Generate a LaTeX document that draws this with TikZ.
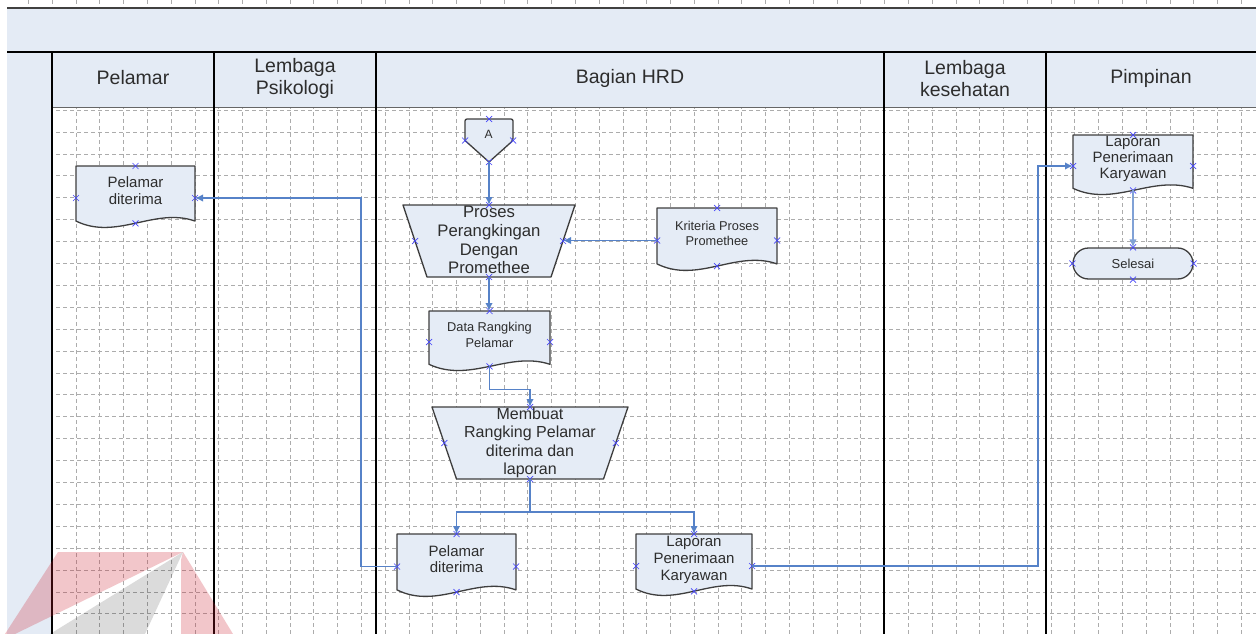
\documentclass[tikz,border=0pt]{standalone}
\usepackage{fontspec}
\setmainfont{Liberation Sans}
\usetikzlibrary{calc,arrows.meta}

\pgfdeclarelayer{grid}
\pgfdeclarelayer{shapes}
\pgfdeclarelayer{marks}
\pgfsetlayers{grid,shapes,main,marks}

\definecolor{lanefill}{RGB}{228,235,245}
\definecolor{boxfill}{RGB}{229,236,246}
\definecolor{boxline}{RGB}{62,62,62}
\definecolor{flow}{RGB}{86,130,200}
\definecolor{pincol}{RGB}{70,70,250}
\definecolor{gridc}{RGB}{172,172,172}
\definecolor{ink}{RGB}{45,45,45}
\definecolor{wmred}{RGB}{205,30,45}

\newcommand\setfs[2]{\fontsize{#1}{#2}\selectfont}

\tikzset{
  x=1pt, y=-1pt,
  outline/.style={fill=boxfill, draw=boxline, line width=1.3pt, line join=round},
  area/.style={rectangle, inner sep=0pt, outer sep=0pt, draw=none},
  txt/.style={align=center, text=ink, inner sep=0pt},
  head/.style={txt, font=\setfs{19.5}{21.5}},
  gridline/.style={draw=gridc, line width=0.7pt, dash pattern=on 4pt off 3pt},
  laneline/.style={draw=black, line width=1.5pt},
  flowline/.style={draw=flow, line width=1.7pt, -{Latex[length=8pt,width=7.5pt]}},
  xmark/.pic={\draw[pincol, line width=0.7pt] (-3,-3) -- (3,3) (-3,3) -- (3,-3);},
}

% document symbol: name, left, top, right, bottom (lowest point of the wave)
\newcommand\docnode[5]{%
  \node[area, minimum width={#4-#2}, minimum height={#5-#3}] (#1)
    at ({(#2+#4)/2},{(#3+#5)/2}) {};
  \begin{pgfonlayer}{shapes}
    \path[outline] (#2,#3) -- (#4,#3) -- (#4,{#3+0.86*(#5-#3)})
      .. controls ({#4-0.34*(#4-#2)},{#3+0.64*(#5-#3)})
              and ({#2+0.34*(#4-#2)},{#3+1.17*(#5-#3)})
      .. (#2,{#3+0.86*(#5-#3)}) -- cycle;
  \end{pgfonlayer}
  \coordinate (#1-s) at ({(#2+#4)/2},{#3+0.895*(#5-#3)});
  \path (#1.north) pic{xmark} (#1.west) pic{xmark} (#1.east) pic{xmark} (#1-s) pic{xmark};
}

% manual operation: name, left, top, right, bottom (top edge), inset of the bottom edge
\newcommand\trapnode[6]{%
  \node[area, minimum width={#4-#2-#6}, minimum height={#5-#3}] (#1)
    at ({(#2+#4)/2},{(#3+#5)/2}) {};
  \begin{pgfonlayer}{shapes}
    \path[outline] (#2,#3) -- (#4,#3) -- ({#4-#6},#5) -- ({#2+#6},#5) -- cycle;
  \end{pgfonlayer}
  \path (#1.north) pic{xmark} (#1.west) pic{xmark} (#1.east) pic{xmark} (#1.south) pic{xmark};
}

\begin{document}
\begin{tikzpicture}
\useasboundingbox (0,0) rectangle (1256,634);

% ---------- background grid and swimlanes ----------
\begin{pgfonlayer}{grid}
  \fill[white] (0,0) rectangle (1256,634);
  \foreach \i in {-2,...,49}
    \draw[gridline] ({76+23.78*\i},0) -- ({76+23.78*\i},634);
  \foreach \j in {-1,...,23}
    \draw[gridline] (7,{132+21.9*\j}) -- (1256,{132+21.9*\j});
  \fill[lanefill] (7,8) rectangle (1256,52);
  \fill[lanefill] (52,52) rectangle (1256,107);
  \fill[lanefill] (7,52) rectangle (52,634);
  \draw[draw=black!75, line width=1.5pt] (7,8) -- (1256,8);
  \draw[draw=black!60, line width=0.9pt] (52,107) -- (1256,107);
  \draw[draw=black, line width=2.2pt] (7,52) -- (1256,52);
  \foreach \lx in {52,214,376,884,1046}
    \draw[laneline] (\lx,52) -- (\lx,634);
\end{pgfonlayer}

% lane headings
\node[head] (hPel) at (133,78) {Pelamar};
\node[head] (hPsi) at (295,78.5) {Lembaga\\Psikologi};
\node[head] (hHrd) at (630,78) {Bagian HRD};
\node[head] (hKes) at (965,78.5) {Lembaga\\kesehatan};
\node[head] (hPim) at (1151,78) {Pimpinan};

% ---------- symbols ----------
% off-page reference A
\node[area, minimum width=48, minimum height=43] (offA) at (489,140.5) {};
\begin{pgfonlayer}{shapes}
  \path[outline, rounded corners=2pt] (465,140.5) -- (465,119) -- (513,119)
    -- (513,140.5) [sharp corners] -- (489,162) -- cycle;
\end{pgfonlayer}
\path (offA.north) pic{xmark} (offA.west) pic{xmark} (offA.east) pic{xmark} (offA.south) pic{xmark};
\node[txt, font=\setfs{12}{14}] (offAt) at (488.5,134) {A};

\trapnode{proses}{403}{205}{575}{277}{24}
\node[txt, font=\setfs{16.7}{18.7}] (prosesT) at (489,240) {Proses\\Perangkingan\\Dengan\\Promethee};

\docnode{krit}{657}{208}{777}{273}
\node[txt, font=\setfs{12.8}{15}] (kritT) at (717,233) {Kriteria Proses\\Promethee};

\docnode{drank}{429}{311}{550}{373}
\node[txt, font=\setfs{12.8}{16}] (drankT) at (489.5,334.5) {Data Rangking\\Pelamar};

\trapnode{mbuat}{432}{407}{628}{479}{24.5}
\node[txt, font=\setfs{16}{18.5}] (mbuatT) at (530,443) {Membuat\\Rangking Pelamar\\diterima dan\\laporan};

\docnode{pd2}{397}{534}{516}{599}
\node[txt, font=\setfs{15}{16.5}] (pd2T) at (456.5,559) {Pelamar\\diterima};

\docnode{lp2}{636}{534}{752}{598}
\node[txt, font=\setfs{15}{17}] (lp2T) at (694,559.5) {Laporan\\Penerimaan\\Karyawan};

\docnode{pd1}{76}{166}{195}{230}
\node[txt, font=\setfs{15}{16.5}] (pd1T) at (135.5,190.5) {Pelamar\\diterima};

\docnode{lp3}{1073}{135}{1193}{197}
\node[txt, font=\setfs{15}{16}] (lp3T) at (1133,158.5) {Laporan\\Penerimaan\\Karyawan};

\node[outline, rounded corners=15.5pt, minimum width=120, minimum height=31,
      inner sep=0pt, text=ink, font=\setfs{13}{15}] (sel) at (1133,263.5) {Selesai};
\path (sel.north) pic{xmark} (sel.west) pic{xmark} (sel.east) pic{xmark} (sel.south) pic{xmark};

% ---------- connectors ----------
\draw[flowline] (offA.south) -- (proses.north);
\draw[flowline] (krit.west) -- (krit.west -| proses.east);
\draw[flowline] (proses.south) -- (proses.south |- drank.north);
\draw[flowline] (drank-s) -- ++(0,23) -| (mbuat.north);
\coordinate (fork) at ($(mbuat.south)+(0,33)$);
\draw[flowline] (mbuat.south) -- (fork) -| (pd2.north);
\draw[flowline] (fork) -| (lp2.north);
\draw[flowline] (pd2.west) -- ++(-36,0) |- (pd1.east);
\draw[flowline] (lp2.east) -- ++(286,0) |- (lp3.west);
\draw[flowline, draw=flow!75, line width=2.6pt] (lp3-s) -- (sel.north);

% ---------- faint logo in the lower left corner ----------
\begin{pgfonlayer}{marks}
  \fill[wmred, opacity=0.25] (58,552) -- (183,552) -- (15,634) -- (5,634) -- cycle;
  \fill[wmred, opacity=0.25] (183,552) -- (233,634) -- (181,634) -- (181,560) -- cycle;
  \fill[black, opacity=0.14] (183,552) -- (145,634) -- (50,634) -- cycle;
\end{pgfonlayer}
\end{tikzpicture}
\end{document}
